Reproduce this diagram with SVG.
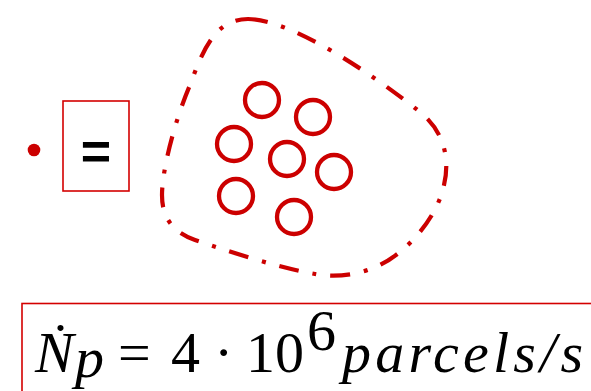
<svg xmlns="http://www.w3.org/2000/svg" width="591" height="391" viewBox="0 0 591 391">
<style>
.red{stroke:#CC0000;fill:none}
.box{stroke:#D40000;stroke-width:1.6;fill:none}
.ring{stroke:#CC0000;stroke-width:4.3;fill:none}
.m{font-family:"Liberation Serif",serif;font-size:58px;fill:#000}
.i{font-style:italic}
</style>
<rect width="591" height="391" fill="#fff"/>
<g id="bullet"><circle cx="34" cy="150" r="6.3" fill="#CC0000"/></g>
<g id="eqbox">
<rect class="box" x="63" y="101" width="66" height="90"/>
<text x="96" y="169" text-anchor="middle" font-family="'Liberation Sans',sans-serif" font-weight="bold" font-size="52" fill="#000">=</text>
</g>
<g id="blob">
<path class="red" stroke-width="4.2" stroke-dasharray="20 14 4 14" d="M248,19 C290,19 370,72 420,112 C445,132 450,160 444,185 C438,215 410,250 380,265 C360,275 335,278 315,274 C280,268 230,252 195,240 C170,231 162,215 162,195 C162,170 175,120 190,85 C203,50 215,19 248,19 Z"/>
<circle class="ring" cx="262" cy="100" r="17"/>
<circle class="ring" cx="313" cy="117" r="17"/>
<circle class="ring" cx="234" cy="144" r="17"/>
<circle class="ring" cx="287" cy="159" r="17"/>
<circle class="ring" cx="334" cy="172" r="17"/>
<circle class="ring" cx="236" cy="196" r="17"/>
<circle class="ring" cx="294" cy="217" r="17"/>
</g>
<g id="formula">
<rect class="box" x="22" y="303.5" width="600" height="120"/>
<text class="m i" x="35" y="372" font-size="60">Ṅ</text>
<text class="m i" x="75" y="377" font-size="40">p</text>
<text class="m" x="118" y="372">=</text>
<text class="m" x="171" y="372">4</text>
<text class="m" x="214" y="372">·</text>
<text class="m" x="246" y="372">10</text>
<text class="m" x="307" y="350" font-size="41">6</text>
<text class="m i" x="342" y="372" textLength="241" lengthAdjust="spacing">parcels/s</text>
</g>
</svg>
